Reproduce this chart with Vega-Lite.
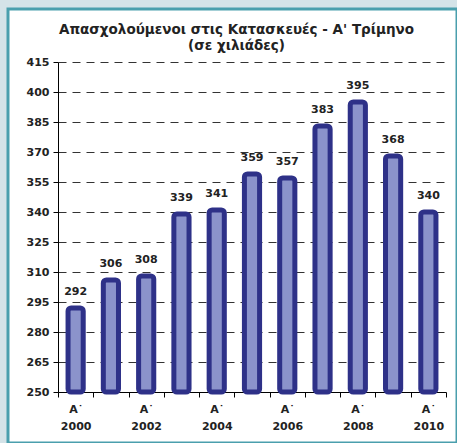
{
  "$schema": "https://vega.github.io/schema/vega-lite/v6.json",
  "width": 449,
  "height": 434,
  "autosize": {"type": "none"},
  "padding": {"left": 8, "top": 9, "right": 0, "bottom": 0},
  "background": "#d4e3e8",
  "config": {
    "view": {"fill": "white", "stroke": "#4a9fad", "strokeWidth": 3},
    "font": "DejaVu Sans"
  },
  "title": {
    "text": ["Απασχολούμενοι στις Κατασκευές - Α' Τρίμηνο", "(σε χιλιάδες)"],
    "font": "DejaVu Sans",
    "fontSize": 13.5,
    "fontWeight": "bold",
    "color": "#222222",
    "anchor": "middle",
    "frame": "group",
    "offset": -43,
    "lineHeight": 16,
    "dx": 4
  },
  "data": {
    "values": [
      {"year": 2000, "value": 292},
      {"year": 2001, "value": 306},
      {"year": 2002, "value": 308},
      {"year": 2003, "value": 339},
      {"year": 2004, "value": 341},
      {"year": 2005, "value": 359},
      {"year": 2006, "value": 357},
      {"year": 2007, "value": 383},
      {"year": 2008, "value": 395},
      {"year": 2009, "value": 368},
      {"year": 2010, "value": 340}
    ]
  },
  "encoding": {
    "x": {
      "field": "year",
      "type": "ordinal",
      "scale": {"range": [50, 438], "paddingInner": 0, "paddingOuter": 0},
      "axis": {
        "title": null,
        "offset": -51,
        "tickBand": "extent",
        "labelExpr": "datum.value % 2 == 0 ? ['Α˙', '' + datum.value] : ''",
        "labelAngle": 0,
        "labelOverlap": false,
        "domainColor": "#000000",
        "tickColor": "#000000",
        "tickSize": 5,
        "labelFont": "DejaVu Sans",
        "labelFontWeight": "bold",
        "labelFontSize": 11,
        "labelColor": "#222222",
        "labelLineHeight": 17,
        "labelPadding": 6,
        "grid": false
      }
    },
    "y": {
      "field": "value",
      "type": "quantitative",
      "scale": {"domain": [250, 415], "range": [383, 53], "zero": false, "nice": false},
      "axis": {
        "title": null,
        "offset": -50,
        "values": [250, 265, 280, 295, 310, 325, 340, 355, 370, 385, 400, 415],
        "tickCount": 12,
        "labelOverlap": false,
        "labelBound": false,
        "labelFlush": false,
        "grid": true,
        "gridDash": [8, 6],
        "gridColor": "#333333",
        "domainColor": "#000000",
        "tickColor": "#000000",
        "tickSize": 5,
        "labelFont": "DejaVu Sans",
        "labelFontWeight": "bold",
        "labelFontSize": 11,
        "labelColor": "#222222",
        "labelPadding": 4
      }
    }
  },
  "layer": [
    {
      "mark": {
        "type": "bar",
        "fill": "#8b93cb",
        "stroke": "#2e3188",
        "strokeWidth": 5,
        "cornerRadius": 3,
        "width": {"band": 0.43}
      },
      "encoding": {
        "y2": {"datum": 250}
      }
    },
    {
      "mark": {
        "type": "text",
        "dy": -13,
        "baseline": "alphabetic",
        "fontWeight": "bold",
        "fontSize": 11,
        "font": "DejaVu Sans",
        "color": "#222222"
      },
      "encoding": {
        "text": {"field": "value", "type": "quantitative"}
      }
    }
  ]
}
